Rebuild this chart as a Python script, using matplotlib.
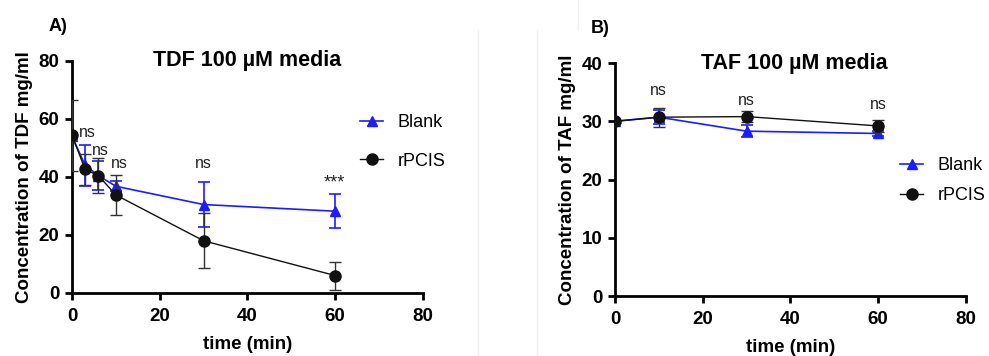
import matplotlib
matplotlib.use("Agg")
import matplotlib.pyplot as plt
from matplotlib.lines import Line2D

plt.rcParams["font.family"] = ["Liberation Sans", "DejaVu Sans"]

# panel A: TDF
tdf_time = [0, 3, 6, 10, 30, 60]
tdf_blank = [54.0, 44.0, 40.5, 36.8, 30.5, 28.2]
tdf_blank_err = [1.0, 7.2, 5.0, 1.8, 7.7, 5.8]
tdf_rpcis = [54.4, 42.6, 40.5, 33.8, 18.0, 6.0]
tdf_rpcis_err = [12.3, 5.4, 6.0, 6.8, 9.5, 4.8]
tdf_marks = ["ns", "ns", "ns", "ns", "***"]
tdf_mark_x = [3.6, 6.4, 10.9, 30.0, 59.8]
tdf_mark_y = [55.5, 49.0, 44.8, 44.8, 38.0]

# panel B: TAF
taf_time = [0, 10, 30, 60]
taf_blank = [30.0, 30.7, 28.3, 27.9]
taf_blank_err = [0.3, 1.2, 1.0, 0.5]
taf_rpcis = [30.0, 30.7, 30.8, 29.2]
taf_rpcis_err = [0.3, 1.6, 0.9, 1.0]
taf_marks = ["ns", "ns", "ns"]
taf_mark_x = [10, 30, 60]
taf_mark_y = [35.2, 33.6, 32.9]

BLUE = "#1c1cff"
BLACK = "#111111"

fig = plt.figure(figsize=(9.89, 3.56), dpi=100)

# faint borders of the pasted source images
for x, y0, y1 in [(478, 30, 356), (537, 30, 356), (578, 0, 30)]:
    fig.add_artist(Line2D([x / 989, x / 989], [1 - y0 / 356, 1 - y1 / 356],
                          color="#f0f0f0", lw=1))

ax_a = fig.add_axes([0.0728, 0.177, 0.3549, 0.6517])
ax_b = fig.add_axes([0.6218, 0.1685, 0.3549, 0.6545])


def draw(ax, t, blank, blank_err, rpcis, rpcis_err, ymax, ystep, title, ylabel,
         marks, mx, my, legend_pos, legend_space, title_x):
    ax.errorbar(t, blank, yerr=blank_err, color=BLUE, marker="^", markersize=7.5,
                lw=1.2, capsize=4.5, capthick=1.2, elinewidth=1.2, zorder=3)
    ax.errorbar(t, rpcis, yerr=rpcis_err, color=BLACK, marker="o", markersize=8,
                lw=1.0, capsize=4.5, capthick=1.0, elinewidth=1.0,
                zorder=4, ecolor="#333333")
    for s, x, y in zip(marks, mx, my):
        fs = 13 if s == "***" else 11.5
        ax.text(x, y, s, ha="center", va="center", fontsize=fs, color="#222222")
    ax.set_xlim(0, 80)
    ax.set_ylim(0, ymax)
    ax.set_xticks(range(0, 81, 20))
    ax.set_yticks(range(0, ymax + 1, ystep))
    for sp in ("top", "right"):
        ax.spines[sp].set_visible(False)
    for sp in ("left", "bottom"):
        ax.spines[sp].set_linewidth(2)
    ax.tick_params(width=2, length=5, labelsize=13.5, pad=4)
    ax.tick_params(axis="x", pad=6)
    for lab in ax.get_xticklabels() + ax.get_yticklabels():
        lab.set_fontweight("bold")
    ax.text(title_x, 1.0, title, transform=ax.transAxes, ha="center", va="center",
            fontsize=15.5, fontweight="bold")
    ax.set_ylabel(ylabel, fontsize=13.5, fontweight="bold", labelpad=4)
    ax.set_xlabel("time (min)", fontsize=13.5, fontweight="bold", labelpad=8)
    handles = [
        Line2D([], [], color=BLUE, marker="^", markersize=7.5, lw=1.2),
        Line2D([], [], color=BLACK, marker="o", markersize=8, lw=1.0),
    ]
    ax.legend(handles, ["Blank", "rPCIS"], loc="center left", bbox_to_anchor=legend_pos,
              frameon=False, fontsize=13, handlelength=1.3, labelspacing=legend_space,
              handletextpad=0.8, borderaxespad=0, borderpad=0)


draw(ax_a, tdf_time, tdf_blank, tdf_blank_err, tdf_rpcis, tdf_rpcis_err, 80, 20,
     "TDF 100 µM media", "Concentration of TDF mg/ml",
     tdf_marks, tdf_mark_x, tdf_mark_y, (0.82, 0.651), 1.2, 0.5)
draw(ax_b, taf_time, taf_blank, taf_blank_err, taf_rpcis, taf_rpcis_err, 40, 10,
     "TAF 100 µM media", "Concentration of TAF mg/ml",
     taf_marks, taf_mark_x, taf_mark_y, (0.812, 0.496), 0.72, 0.51)

fig.text(0.049, 0.925, "A)", fontsize=13, fontweight="bold", va="center")
fig.text(0.597, 0.92, "B)", fontsize=13, fontweight="bold", va="center")

fig.savefig("out.png", dpi=100)
